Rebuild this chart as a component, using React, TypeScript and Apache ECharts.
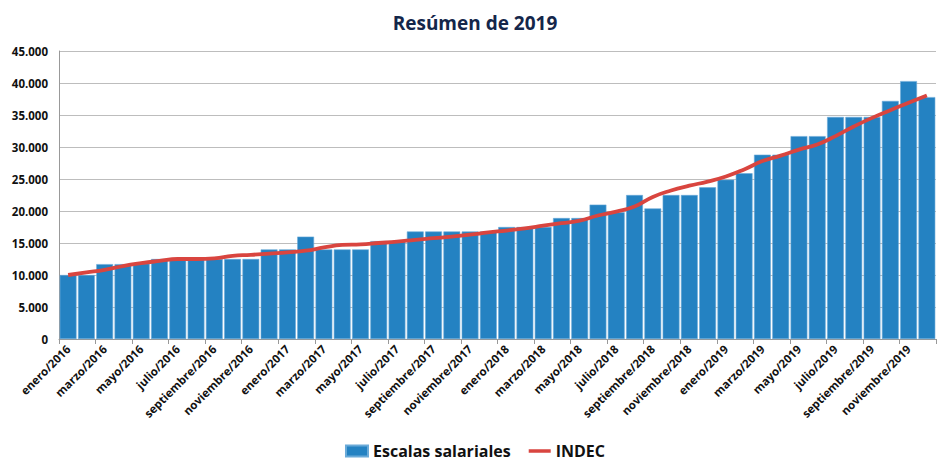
import React, { useEffect, useRef } from "react";
import * as echarts from "echarts";

const months = ["enero", "febrero", "marzo", "abril", "mayo", "junio", "julio", "agosto", "septiembre", "octubre", "noviembre", "diciembre"];
const years = [2016, 2017, 2018, 2019];
const categories: string[] = [];
years.forEach((y) => months.forEach((m) => categories.push(`${m}/${y}`)));

const escalas = [
  10000, 10000, 11700, 11700, 11800, 12500, 12500, 12500, 12500, 12500, 12500, 14000,
  14000, 16000, 14000, 14000, 14000, 15300, 15300, 16800, 16800, 16800, 16800, 16800,
  17500, 17500, 17500, 18900, 18900, 21000, 19800, 22500, 20400, 22500, 22500, 23700,
  24900, 25900, 28800, 28800, 31700, 31700, 34700, 34700, 34700, 37200, 40300, 37800,
];

const indec = [
  10000, 10400, 10800, 11400, 11850, 12200, 12500, 12500, 12600, 13000, 13150, 13350,
  13550, 13800, 14300, 14700, 14800, 15000, 15200, 15500, 15750, 16000, 16300, 16650,
  16950, 17300, 17700, 18100, 18500, 19300, 19900, 20700, 22200, 23200, 23950, 24600,
  25400, 26500, 27800, 28650, 29600, 30400, 31700, 33200, 34550, 35750, 36900, 38050,
];

const FONT = "'Open Sans', 'Liberation Sans', sans-serif";

export default function App() {
  const ref = useRef<HTMLDivElement>(null);
  useEffect(() => {
    if (!ref.current) return;
    const chart = echarts.init(ref.current, undefined, { renderer: "svg" });
    chart.setOption({
      animation: false,
      backgroundColor: "#ffffff",
      title: {
        text: "Resúmen de 2019",
        left: "center",
        top: 8,
        textStyle: { fontFamily: FONT, fontWeight: "bold", fontSize: 19, color: "#14264a" },
      },
      legend: {
        bottom: 11,
        left: "center",
        itemWidth: 22,
        itemHeight: 11,
        itemGap: 18,
        textStyle: { fontFamily: FONT, fontWeight: "bold", fontSize: 16, color: "#111" },
        data: [
          { name: "Escalas salariales", icon: "rect" },
          { name: "INDEC", icon: "path://M0,0 L22,0 L22,3.5 L0,3.5 Z", itemStyle: { color: "#d9453f" } },
        ],
      },
      grid: { left: 59, right: 14, top: 51, bottom: 136, containLabel: false },
      xAxis: {
        type: "category",
        data: categories,
        boundaryGap: true,
        axisLine: { lineStyle: { color: "#999", width: 1 } },
        axisTick: { show: true, interval: 1, length: 5, lineStyle: { color: "#999" } },
        axisLabel: {
          interval: 1,
          rotate: 45,
          fontFamily: FONT,
          fontWeight: "bold",
          fontSize: 11.5,
          color: "#111",
          margin: 8,
        },
      },
      yAxis: {
        type: "value",
        min: 0,
        max: 45000,
        interval: 5000,
        axisLine: { show: true, lineStyle: { color: "#999" } },
        axisTick: { show: false },
        splitLine: { lineStyle: { color: "#bdbdbd", width: 1 } },
        axisLabel: {
          fontFamily: FONT,
          fontWeight: "bold",
          fontSize: 11.5,
          color: "#111",
          margin: 11,
          formatter: (v: number) => (v === 0 ? "0" : v.toLocaleString("de-DE")),
        },
      },
      series: [
        {
          name: "Escalas salariales",
          type: "bar",
          data: escalas,
          barCategoryGap: "8%",
          itemStyle: { color: "#2482c2", borderColor: "#6aaad8", borderWidth: 0.6 },
        },
        {
          name: "INDEC",
          type: "line",
          data: indec,
          smooth: true,
          symbol: "none",
          lineStyle: { color: "#d9453f", width: 3.8 },
          itemStyle: { color: "#d9453f" },
        },
      ],
    });
    return () => chart.dispose();
  }, []);
  return <div ref={ref} style={{ width: 950, height: 475, position: "absolute", left: 0, top: 0 }} />;
}
